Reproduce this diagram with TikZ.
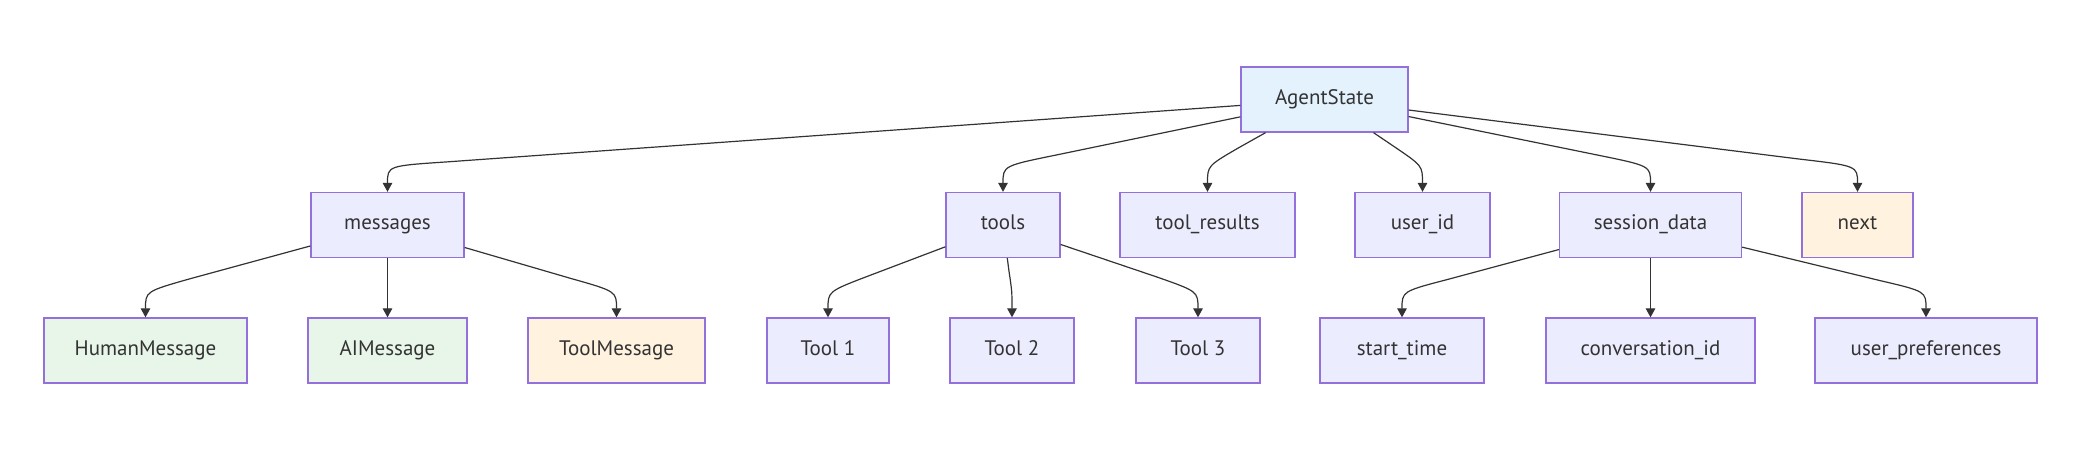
\documentclass[tikz,border=0pt]{standalone}
\usepackage{fontspec}
\setmainfont{PT Sans}
\usetikzlibrary{arrows.meta, calc}
\definecolor{boxline}{HTML}{9370DB}
\definecolor{boxfill}{HTML}{ECECFF}
\definecolor{statefill}{HTML}{E3F2FD}
\definecolor{msgfill}{HTML}{E8F5E9}
\definecolor{warmfill}{HTML}{FFF3E0}
\definecolor{ink}{HTML}{333333}

\begin{document}
\begin{tikzpicture}[
    x=1pt, y=-1pt,
    every node/.style={font=\fontsize{21}{25}\selectfont, text=ink},
    box/.style={draw=boxline, fill=boxfill, line width=1.3pt, minimum height=65pt, inner sep=0pt,
                text height=0.9em, text depth=0pt},
    ar/.style={-{Triangle[length=9pt, width=9.5pt]}, draw=ink, line width=1.2pt}
]
\useasboundingbox (0,0) rectangle (2090,460);
% Root state
\node[box, fill=statefill, minimum width=167pt] (state) at (1324.5,99.5) {AgentState};
% Second row: state fields
\node[box, minimum width=153pt] (messages) at (387.5,225) {messages};
\node[box, minimum width=114pt] (tools) at (1003,225) {tools};
\node[box, minimum width=175pt] (results) at (1207.5,225) {tool\_results};
\node[box, minimum width=135pt] (userid) at (1422.5,225) {user\_id};
\node[box, minimum width=182pt] (session) at (1650.5,225) {session\_data};
\node[box, fill=warmfill, minimum width=111pt] (next) at (1857.5,225) {next};
% Third row: message types, tools, session entries
\node[box, fill=msgfill, minimum width=203pt] (human) at (145.5,350.5) {HumanMessage};
\node[box, fill=msgfill, minimum width=159pt] (aimsg) at (387.5,350.5) {AIMessage};
\node[box, fill=warmfill, minimum width=177pt] (toolmsg) at (616.5,350.5) {ToolMessage};
\node[box, minimum width=122pt] (toolA) at (828,350.5) {Tool 1};
\node[box, minimum width=124pt] (toolB) at (1012,350.5) {Tool 2};
\node[box, minimum width=124pt] (toolC) at (1198,350.5) {Tool 3};
\node[box, minimum width=164pt] (starttime) at (1402,350.5) {start\_time};
\node[box, minimum width=209pt] (convid) at (1650.5,350.5) {conversation\_id};
\node[box, minimum width=222pt] (prefs) at (1926,350.5) {user\_preferences};
% state -> fields
\draw[ar] (state) -- ($(messages.north)+(60,-30)$) .. controls ($(messages.north)+(0,-26)$) .. (messages.north);
\draw[ar] (state) -- ($(tools.north)+(54,-37)$) .. controls ($(tools.north)+(0,-26)$) .. (tools.north);
\draw[ar] (state) -- ($(results.north)+(31,-44)$) .. controls ($(results.north)+(0,-26)$) .. (results.north);
\draw[ar] (state) -- ($(userid.north)+(-28,-45)$) .. controls ($(userid.north)+(0,-26)$) .. (userid.north);
\draw[ar] (state) -- ($(session.north)+(-54,-37)$) .. controls ($(session.north)+(0,-26)$) .. (session.north);
\draw[ar] (state) -- ($(next.north)+(-60,-33)$) .. controls ($(next.north)+(0,-26)$) .. (next.north);
% messages -> message types
\draw[ar] (messages) -- ($(human.north)+(46,-39)$) .. controls ($(human.north)+(0,-26)$) .. (human.north);
\draw[ar] (messages) -- (aimsg);
\draw[ar] (messages) -- ($(toolmsg.north)+(-46,-39)$) .. controls ($(toolmsg.north)+(0,-26)$) .. (toolmsg.north);
% tools -> single tools
\draw[ar] (tools) -- ($(toolA.north)+(42,-42)$) .. controls ($(toolA.north)+(0,-26)$) .. (toolA.north);
\draw[ar] (tools) -- ($(toolB.north)+(-3,-46)$) .. controls ($(toolB.north)+(0,-26)$) .. (toolB.north);
\draw[ar] (tools) -- ($(toolC.north)+(-43,-41)$) .. controls ($(toolC.north)+(0,-26)$) .. (toolC.north);
% session_data -> entries
\draw[ar] (session) -- ($(starttime.north)+(46,-38)$) .. controls ($(starttime.north)+(0,-26)$) .. (starttime.north);
\draw[ar] (session) -- (convid);
\draw[ar] (session) -- ($(prefs.north)+(-47,-37)$) .. controls ($(prefs.north)+(0,-26)$) .. (prefs.north);
\end{tikzpicture}
\end{document}
